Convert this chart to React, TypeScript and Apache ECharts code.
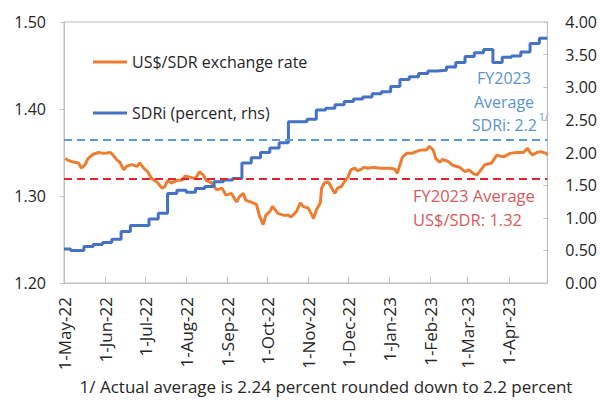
import React, { useEffect, useRef } from "react";
import * as echarts from "echarts";

// Axis domain: every day from 1-May-22 to 30-Apr-23
const startDate = "2022-05-01";
const endDate = "2023-04-30";
const monthNames = ["Jan", "Feb", "Mar", "Apr", "May", "Jun", "Jul", "Aug", "Sep", "Oct", "Nov", "Dec"];

function buildDays(a: string, b: string): string[] {
  const out: string[] = [];
  const d = new Date(a + "T00:00:00Z");
  const end = new Date(b + "T00:00:00Z");
  while (d.getTime() <= end.getTime()) {
    out.push(d.toISOString().slice(0, 10));
    d.setUTCDate(d.getUTCDate() + 1);
  }
  return out;
}
const categories = buildDays(startDate, endDate);

// US$/SDR exchange rate (left axis)
const fxRate: [string, number][] = [
  ["2022-05-02", 1.343], ["2022-05-04", 1.341], ["2022-05-08", 1.339], ["2022-05-12", 1.338],
  ["2022-05-14", 1.332], ["2022-05-17", 1.336], ["2022-05-19", 1.343], ["2022-05-23", 1.348],
  ["2022-05-27", 1.350], ["2022-05-31", 1.349], ["2022-06-05", 1.350], ["2022-06-07", 1.347],
  ["2022-06-10", 1.341], ["2022-06-12", 1.339], ["2022-06-15", 1.330], ["2022-06-17", 1.334],
  ["2022-06-21", 1.336], ["2022-06-25", 1.334], ["2022-06-27", 1.338], ["2022-06-30", 1.332],
  ["2022-07-03", 1.328], ["2022-07-06", 1.320], ["2022-07-10", 1.316], ["2022-07-14", 1.309],
  ["2022-07-16", 1.311], ["2022-07-18", 1.318], ["2022-07-21", 1.315], ["2022-07-25", 1.318],
  ["2022-07-29", 1.318], ["2022-07-31", 1.323], ["2022-08-03", 1.322], ["2022-08-08", 1.320],
  ["2022-08-11", 1.328], ["2022-08-14", 1.324], ["2022-08-16", 1.318], ["2022-08-20", 1.315],
  ["2022-08-24", 1.307], ["2022-08-28", 1.309], ["2022-08-31", 1.301], ["2022-09-04", 1.303],
  ["2022-09-08", 1.293], ["2022-09-10", 1.299], ["2022-09-13", 1.303], ["2022-09-15", 1.295],
  ["2022-09-19", 1.293], ["2022-09-23", 1.290], ["2022-09-25", 1.278], ["2022-09-28", 1.267],
  ["2022-09-30", 1.278], ["2022-10-03", 1.282], ["2022-10-05", 1.288], ["2022-10-09", 1.280],
  ["2022-10-13", 1.278], ["2022-10-17", 1.278], ["2022-10-19", 1.276], ["2022-10-23", 1.282],
  ["2022-10-26", 1.292], ["2022-10-28", 1.288], ["2022-11-01", 1.286], ["2022-11-05", 1.274],
  ["2022-11-07", 1.284], ["2022-11-10", 1.292], ["2022-11-11", 1.309], ["2022-11-13", 1.315],
  ["2022-11-16", 1.316], ["2022-11-18", 1.311], ["2022-11-21", 1.303], ["2022-11-23", 1.309],
  ["2022-11-26", 1.311], ["2022-11-28", 1.316], ["2022-12-01", 1.322], ["2022-12-03", 1.330],
  ["2022-12-06", 1.332], ["2022-12-08", 1.329], ["2022-12-11", 1.331], ["2022-12-13", 1.333],
  ["2022-12-16", 1.332], ["2022-12-20", 1.333], ["2022-12-25", 1.332], ["2023-01-01", 1.332],
  ["2023-01-05", 1.331], ["2023-01-07", 1.326], ["2023-01-09", 1.336], ["2023-01-11", 1.345],
  ["2023-01-14", 1.349], ["2023-01-18", 1.349], ["2023-01-21", 1.351], ["2023-01-25", 1.353],
  ["2023-01-29", 1.353], ["2023-01-31", 1.357], ["2023-02-03", 1.353], ["2023-02-05", 1.343],
  ["2023-02-08", 1.339], ["2023-02-10", 1.342], ["2023-02-14", 1.340], ["2023-02-18", 1.335],
  ["2023-02-23", 1.333], ["2023-02-27", 1.328], ["2023-03-02", 1.330], ["2023-03-05", 1.326],
  ["2023-03-08", 1.324], ["2023-03-10", 1.328], ["2023-03-14", 1.336], ["2023-03-19", 1.338],
  ["2023-03-23", 1.347], ["2023-03-28", 1.345], ["2023-04-02", 1.349], ["2023-04-07", 1.350],
  ["2023-04-12", 1.350], ["2023-04-15", 1.355], ["2023-04-17", 1.350], ["2023-04-19", 1.347],
  ["2023-04-22", 1.350], ["2023-04-25", 1.351], ["2023-04-29", 1.349], ["2023-04-30", 1.347],
];

// SDR interest rate, percent (right axis), weekly
const sdri: [string, number][] = [
  ["2022-05-01", 0.52], ["2022-05-06", 0.50], ["2022-05-16", 0.56], ["2022-05-23", 0.59],
  ["2022-05-30", 0.62], ["2022-06-06", 0.67], ["2022-06-13", 0.79], ["2022-06-20", 0.88],
  ["2022-06-27", 0.88], ["2022-07-04", 0.98], ["2022-07-11", 1.07], ["2022-07-18", 1.37],
  ["2022-07-25", 1.42], ["2022-08-01", 1.39], ["2022-08-08", 1.45], ["2022-08-15", 1.48],
  ["2022-08-22", 1.55], ["2022-08-29", 1.58], ["2022-09-05", 1.60], ["2022-09-12", 1.84],
  ["2022-09-19", 1.92], ["2022-09-26", 2.00], ["2022-10-03", 2.07], ["2022-10-10", 2.15],
  ["2022-10-17", 2.47], ["2022-10-24", 2.47], ["2022-10-31", 2.51], ["2022-11-07", 2.65],
  ["2022-11-14", 2.68], ["2022-11-21", 2.73], ["2022-11-28", 2.78], ["2022-12-05", 2.82],
  ["2022-12-12", 2.85], ["2022-12-19", 2.90], ["2022-12-26", 2.93], ["2023-01-02", 3.01],
  ["2023-01-09", 3.12], ["2023-01-16", 3.16], ["2023-01-23", 3.21], ["2023-01-30", 3.25],
  ["2023-02-06", 3.26], ["2023-02-13", 3.31], ["2023-02-20", 3.38], ["2023-02-27", 3.47],
  ["2023-03-06", 3.53], ["2023-03-13", 3.58], ["2023-03-20", 3.38], ["2023-03-27", 3.46],
  ["2023-04-03", 3.48], ["2023-04-10", 3.54], ["2023-04-17", 3.67], ["2023-04-24", 3.75],
  ["2023-04-30", 3.75],
];

const fxAverage = 1.32;
const sdriAverage = 2.2;
const leftTicks = { min: 1.2, max: 1.5, interval: 0.1 };
const rightTicks = { min: 0, max: 4, interval: 0.5 };

const seriesNames = ["US$/SDR exchange rate", "SDRi (percent, rhs)"];
const footnote = "1/ Actual average is 2.24 percent rounded down to 2.2 percent";

const FONT = "'Open Sans', 'Noto Sans', sans-serif";
const TEXT = "#262626";
const AXIS = "#bfbfbf";
const ORANGE = "#ed7d31";
const BLUE = "#4472c4";

const isMonthStart = (_i: number, v: string) => v.slice(8) === "01";

export default function App() {
  const ref = useRef<HTMLDivElement>(null);
  useEffect(() => {
    if (!ref.current) return;
    const chart = echarts.init(ref.current, undefined, { renderer: "svg" });
    chart.setOption({
      animation: false,
      textStyle: { fontFamily: FONT },
      grid: { left: 64, right: 51, top: 22, bottom: 117, show: true, borderColor: AXIS, borderWidth: 1 },
      legend: {
        orient: "vertical",
        left: 88,
        top: 47,
        icon: "rect",
        itemWidth: 34,
        itemHeight: 3,
        itemGap: 31,
        data: seriesNames,
        textStyle: { fontSize: 16, lineHeight: 20, color: TEXT, fontFamily: FONT },
      },
      xAxis: {
        type: "category",
        data: categories,
        boundaryGap: false,
        axisLine: { show: true, lineStyle: { color: AXIS } },
        axisTick: { show: true, inside: true, length: 6, interval: isMonthStart, lineStyle: { color: AXIS } },
        axisLabel: {
          interval: isMonthStart,
          rotate: 90,
          margin: 14,
          fontSize: 17,
          color: TEXT,
          fontFamily: FONT,
          formatter: (v: string) => {
            const [y, m, d] = v.split("-");
            return `${parseInt(d, 10)}-${monthNames[parseInt(m, 10) - 1]}-${y.slice(2)}`;
          },
        },
        splitLine: { show: false },
      },
      yAxis: [
        {
          type: "value",
          ...leftTicks,
          axisLine: { show: true, lineStyle: { color: AXIS } },
          axisTick: { show: true, length: 4, lineStyle: { color: AXIS } },
          axisLabel: { fontSize: 16, color: TEXT, margin: 18, formatter: (v: number) => v.toFixed(2), fontFamily: FONT },
          splitLine: { show: false },
        },
        {
          type: "value",
          position: "right",
          ...rightTicks,
          axisLine: { show: true, lineStyle: { color: AXIS } },
          axisTick: { show: true, inside: true, length: 4, lineStyle: { color: AXIS } },
          axisLabel: { fontSize: 16, color: TEXT, margin: 18, formatter: (v: number) => v.toFixed(2), fontFamily: FONT },
          splitLine: { show: false },
        },
      ],
      series: [
        {
          name: seriesNames[0],
          type: "line",
          yAxisIndex: 0,
          data: fxRate,
          symbol: "none",
          lineStyle: { color: ORANGE, width: 3 },
          itemStyle: { color: ORANGE },
          markLine: {
            silent: true,
            symbol: "none",
            label: { show: false },
            lineStyle: { color: "#e0262b", type: [8, 5], width: 2 },
            data: [{ yAxis: fxAverage }],
          },
          z: 2,
        },
        {
          name: seriesNames[1],
          type: "line",
          yAxisIndex: 1,
          step: "end",
          data: sdri,
          symbol: "none",
          lineStyle: { color: BLUE, width: 3 },
          itemStyle: { color: BLUE },
          markLine: {
            silent: true,
            symbol: "none",
            label: { show: false },
            lineStyle: { color: "#5b9bd5", type: [8, 5], width: 2 },
            data: [{ yAxis: sdriAverage }],
          },
          z: 3,
        },
      ],
      graphic: [
        { type: "text", x: 504, y: 78, style: { text: "FY2023", fill: "#5b93cf", font: `16px ${FONT}`, textAlign: "center", textVerticalAlign: "middle" } },
        { type: "text", x: 504, y: 102, style: { text: "Average", fill: "#5b93cf", font: `16px ${FONT}`, textAlign: "center", textVerticalAlign: "middle" } },
        { type: "text", x: 537, y: 125, style: { text: "SDRi: " + sdriAverage.toFixed(1), fill: "#5b93cf", font: `16px ${FONT}`, textAlign: "right", textVerticalAlign: "middle" } },
        { type: "text", x: 539, y: 117, style: { text: "1/", fill: "#5b93cf", font: `10px ${FONT}`, textAlign: "left", textVerticalAlign: "middle" } },
        { type: "text", x: 413, y: 195, style: { text: "FY2023 Average", fill: "#d65a5c", font: `16.5px ${FONT}`, textAlign: "left", textVerticalAlign: "middle" } },
        { type: "text", x: 413, y: 219, style: { text: "US$/SDR: " + fxAverage.toFixed(2), fill: "#d65a5c", font: `16.5px ${FONT}`, textAlign: "left", textVerticalAlign: "middle" } },
        { type: "text", x: 326, y: 386, style: { text: footnote, fill: TEXT, font: `17px ${FONT}`, textAlign: "center", textVerticalAlign: "middle" } },
      ],
    });
    return () => chart.dispose();
  }, []);
  return <div ref={ref} style={{ width: 600, height: 400, position: "absolute", left: 0, top: 0 }} />;
}
